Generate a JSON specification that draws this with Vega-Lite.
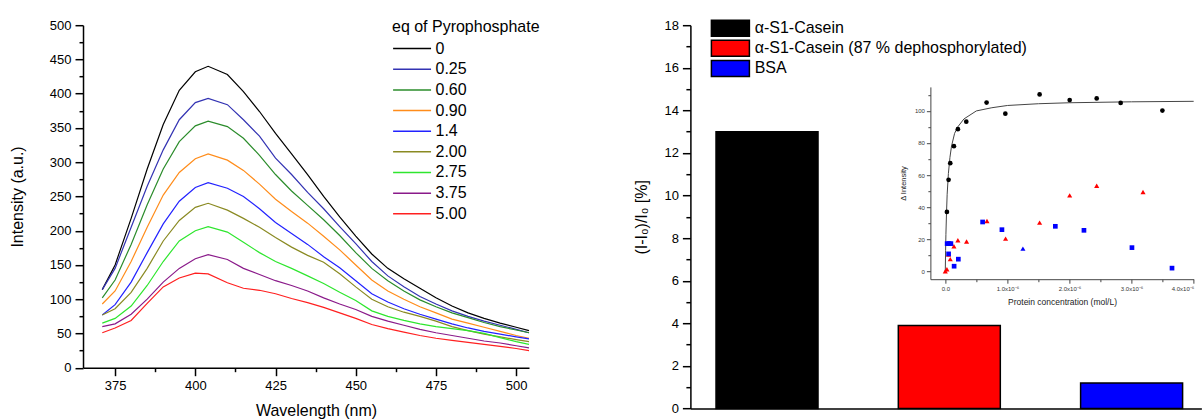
{
  "$schema": "https://vega.github.io/schema/vega-lite/v6.json",
  "padding": {"left": 9, "top": 19.2, "right": 0, "bottom": 0},
  "config": {"font": "Liberation Sans", "view": {"stroke": null}, "axis": {"grid": false}},
  "spacing": 161.4,
  "bounds": "flush",
  "hconcat": [
    {
      "width": 446,
      "height": 342.5,
      "data": {"values": [
        {"eq":"0","nm":371,"I":114},{"eq":"0","nm":375,"I":150},{"eq":"0","nm":380,"I":218},{"eq":"0","nm":385,"I":290},{"eq":"0","nm":390,"I":355},{"eq":"0","nm":395,"I":405},{"eq":"0","nm":400,"I":432},{"eq":"0","nm":404,"I":440},{"eq":"0","nm":410,"I":428},{"eq":"0","nm":415,"I":403},{"eq":"0","nm":420,"I":374},{"eq":"0","nm":425,"I":342},{"eq":"0","nm":430,"I":312},{"eq":"0","nm":435,"I":282},{"eq":"0","nm":440,"I":250},{"eq":"0","nm":445,"I":220},{"eq":"0","nm":450,"I":192},{"eq":"0","nm":455,"I":166},{"eq":"0","nm":460,"I":145},{"eq":"0","nm":465,"I":130},{"eq":"0","nm":470,"I":116},{"eq":"0","nm":475,"I":102},{"eq":"0","nm":480,"I":90},{"eq":"0","nm":485,"I":80},{"eq":"0","nm":490,"I":72},{"eq":"0","nm":495,"I":65},{"eq":"0","nm":500,"I":59},{"eq":"0","nm":504,"I":54},
        {"eq":"0.25","nm":371,"I":114},{"eq":"0.25","nm":375,"I":145},{"eq":"0.25","nm":380,"I":205},{"eq":"0.25","nm":385,"I":265},{"eq":"0.25","nm":390,"I":318},{"eq":"0.25","nm":395,"I":362},{"eq":"0.25","nm":400,"I":387},{"eq":"0.25","nm":404,"I":393},{"eq":"0.25","nm":410,"I":384},{"eq":"0.25","nm":415,"I":362},{"eq":"0.25","nm":420,"I":338},{"eq":"0.25","nm":425,"I":306},{"eq":"0.25","nm":430,"I":282},{"eq":"0.25","nm":435,"I":256},{"eq":"0.25","nm":440,"I":232},{"eq":"0.25","nm":445,"I":206},{"eq":"0.25","nm":450,"I":181},{"eq":"0.25","nm":455,"I":155},{"eq":"0.25","nm":460,"I":134},{"eq":"0.25","nm":465,"I":118},{"eq":"0.25","nm":470,"I":104},{"eq":"0.25","nm":475,"I":93},{"eq":"0.25","nm":480,"I":83},{"eq":"0.25","nm":485,"I":75},{"eq":"0.25","nm":490,"I":68},{"eq":"0.25","nm":495,"I":62},{"eq":"0.25","nm":500,"I":56},{"eq":"0.25","nm":504,"I":51},
        {"eq":"0.60","nm":371,"I":102},{"eq":"0.60","nm":375,"I":128},{"eq":"0.60","nm":380,"I":180},{"eq":"0.60","nm":385,"I":238},{"eq":"0.60","nm":390,"I":290},{"eq":"0.60","nm":395,"I":330},{"eq":"0.60","nm":400,"I":353},{"eq":"0.60","nm":404,"I":360},{"eq":"0.60","nm":410,"I":352},{"eq":"0.60","nm":415,"I":335},{"eq":"0.60","nm":420,"I":310},{"eq":"0.60","nm":425,"I":282},{"eq":"0.60","nm":430,"I":258},{"eq":"0.60","nm":435,"I":237},{"eq":"0.60","nm":440,"I":216},{"eq":"0.60","nm":445,"I":193},{"eq":"0.60","nm":450,"I":168},{"eq":"0.60","nm":455,"I":145},{"eq":"0.60","nm":460,"I":127},{"eq":"0.60","nm":465,"I":112},{"eq":"0.60","nm":470,"I":99},{"eq":"0.60","nm":475,"I":89},{"eq":"0.60","nm":480,"I":80},{"eq":"0.60","nm":485,"I":73},{"eq":"0.60","nm":490,"I":66},{"eq":"0.60","nm":495,"I":60},{"eq":"0.60","nm":500,"I":55},{"eq":"0.60","nm":504,"I":51},
        {"eq":"0.90","nm":371,"I":93},{"eq":"0.90","nm":375,"I":112},{"eq":"0.90","nm":380,"I":155},{"eq":"0.90","nm":385,"I":205},{"eq":"0.90","nm":390,"I":252},{"eq":"0.90","nm":395,"I":285},{"eq":"0.90","nm":400,"I":305},{"eq":"0.90","nm":404,"I":312},{"eq":"0.90","nm":410,"I":303},{"eq":"0.90","nm":415,"I":288},{"eq":"0.90","nm":420,"I":268},{"eq":"0.90","nm":425,"I":246},{"eq":"0.90","nm":430,"I":228},{"eq":"0.90","nm":435,"I":211},{"eq":"0.90","nm":440,"I":192},{"eq":"0.90","nm":445,"I":172},{"eq":"0.90","nm":450,"I":150},{"eq":"0.90","nm":455,"I":128},{"eq":"0.90","nm":460,"I":112},{"eq":"0.90","nm":465,"I":100},{"eq":"0.90","nm":470,"I":89},{"eq":"0.90","nm":475,"I":80},{"eq":"0.90","nm":480,"I":71},{"eq":"0.90","nm":485,"I":65},{"eq":"0.90","nm":490,"I":59},{"eq":"0.90","nm":495,"I":53},{"eq":"0.90","nm":500,"I":47},{"eq":"0.90","nm":504,"I":43},
        {"eq":"1.4","nm":371,"I":77},{"eq":"1.4","nm":375,"I":92},{"eq":"1.4","nm":380,"I":125},{"eq":"1.4","nm":385,"I":168},{"eq":"1.4","nm":390,"I":210},{"eq":"1.4","nm":395,"I":243},{"eq":"1.4","nm":400,"I":263},{"eq":"1.4","nm":404,"I":270},{"eq":"1.4","nm":410,"I":262},{"eq":"1.4","nm":415,"I":250},{"eq":"1.4","nm":420,"I":232},{"eq":"1.4","nm":425,"I":212},{"eq":"1.4","nm":430,"I":196},{"eq":"1.4","nm":435,"I":180},{"eq":"1.4","nm":440,"I":162},{"eq":"1.4","nm":445,"I":146},{"eq":"1.4","nm":450,"I":127},{"eq":"1.4","nm":455,"I":108},{"eq":"1.4","nm":460,"I":96},{"eq":"1.4","nm":465,"I":86},{"eq":"1.4","nm":470,"I":78},{"eq":"1.4","nm":475,"I":71},{"eq":"1.4","nm":480,"I":64},{"eq":"1.4","nm":485,"I":58},{"eq":"1.4","nm":490,"I":53},{"eq":"1.4","nm":495,"I":49},{"eq":"1.4","nm":500,"I":45},{"eq":"1.4","nm":504,"I":42},
        {"eq":"2.00","nm":371,"I":77},{"eq":"2.00","nm":375,"I":86},{"eq":"2.00","nm":380,"I":110},{"eq":"2.00","nm":385,"I":145},{"eq":"2.00","nm":390,"I":185},{"eq":"2.00","nm":395,"I":215},{"eq":"2.00","nm":400,"I":234},{"eq":"2.00","nm":404,"I":240},{"eq":"2.00","nm":410,"I":230},{"eq":"2.00","nm":415,"I":218},{"eq":"2.00","nm":420,"I":205},{"eq":"2.00","nm":425,"I":190},{"eq":"2.00","nm":430,"I":176},{"eq":"2.00","nm":435,"I":164},{"eq":"2.00","nm":440,"I":154},{"eq":"2.00","nm":445,"I":137},{"eq":"2.00","nm":450,"I":118},{"eq":"2.00","nm":455,"I":100},{"eq":"2.00","nm":460,"I":89},{"eq":"2.00","nm":465,"I":81},{"eq":"2.00","nm":470,"I":75},{"eq":"2.00","nm":475,"I":68},{"eq":"2.00","nm":480,"I":60},{"eq":"2.00","nm":485,"I":54},{"eq":"2.00","nm":490,"I":49},{"eq":"2.00","nm":495,"I":45},{"eq":"2.00","nm":500,"I":41},{"eq":"2.00","nm":504,"I":38},
        {"eq":"2.75","nm":371,"I":65},{"eq":"2.75","nm":375,"I":72},{"eq":"2.75","nm":380,"I":90},{"eq":"2.75","nm":385,"I":120},{"eq":"2.75","nm":390,"I":155},{"eq":"2.75","nm":395,"I":185},{"eq":"2.75","nm":400,"I":200},{"eq":"2.75","nm":404,"I":206},{"eq":"2.75","nm":410,"I":198},{"eq":"2.75","nm":415,"I":183},{"eq":"2.75","nm":420,"I":168},{"eq":"2.75","nm":425,"I":155},{"eq":"2.75","nm":430,"I":145},{"eq":"2.75","nm":435,"I":134},{"eq":"2.75","nm":440,"I":123},{"eq":"2.75","nm":445,"I":110},{"eq":"2.75","nm":450,"I":98},{"eq":"2.75","nm":455,"I":83},{"eq":"2.75","nm":460,"I":75},{"eq":"2.75","nm":465,"I":69},{"eq":"2.75","nm":470,"I":64},{"eq":"2.75","nm":475,"I":60},{"eq":"2.75","nm":480,"I":57},{"eq":"2.75","nm":485,"I":54},{"eq":"2.75","nm":490,"I":50},{"eq":"2.75","nm":495,"I":44},{"eq":"2.75","nm":500,"I":38},{"eq":"2.75","nm":504,"I":34},
        {"eq":"3.75","nm":371,"I":60},{"eq":"3.75","nm":375,"I":64},{"eq":"3.75","nm":380,"I":78},{"eq":"3.75","nm":385,"I":100},{"eq":"3.75","nm":390,"I":125},{"eq":"3.75","nm":395,"I":145},{"eq":"3.75","nm":400,"I":159},{"eq":"3.75","nm":404,"I":165},{"eq":"3.75","nm":410,"I":158},{"eq":"3.75","nm":415,"I":145},{"eq":"3.75","nm":420,"I":136},{"eq":"3.75","nm":425,"I":127},{"eq":"3.75","nm":430,"I":120},{"eq":"3.75","nm":435,"I":112},{"eq":"3.75","nm":440,"I":102},{"eq":"3.75","nm":445,"I":93},{"eq":"3.75","nm":450,"I":85},{"eq":"3.75","nm":455,"I":75},{"eq":"3.75","nm":460,"I":68},{"eq":"3.75","nm":465,"I":62},{"eq":"3.75","nm":470,"I":56},{"eq":"3.75","nm":475,"I":51},{"eq":"3.75","nm":480,"I":47},{"eq":"3.75","nm":485,"I":43},{"eq":"3.75","nm":490,"I":39},{"eq":"3.75","nm":495,"I":36},{"eq":"3.75","nm":500,"I":32},{"eq":"3.75","nm":504,"I":29},
        {"eq":"5.00","nm":371,"I":51},{"eq":"5.00","nm":375,"I":58},{"eq":"5.00","nm":380,"I":69},{"eq":"5.00","nm":385,"I":94},{"eq":"5.00","nm":390,"I":118},{"eq":"5.00","nm":395,"I":131},{"eq":"5.00","nm":400,"I":138},{"eq":"5.00","nm":404,"I":137},{"eq":"5.00","nm":410,"I":124},{"eq":"5.00","nm":415,"I":116},{"eq":"5.00","nm":420,"I":113},{"eq":"5.00","nm":425,"I":108},{"eq":"5.00","nm":430,"I":101},{"eq":"5.00","nm":435,"I":95},{"eq":"5.00","nm":440,"I":88},{"eq":"5.00","nm":445,"I":80},{"eq":"5.00","nm":450,"I":72},{"eq":"5.00","nm":455,"I":63},{"eq":"5.00","nm":460,"I":57},{"eq":"5.00","nm":465,"I":52},{"eq":"5.00","nm":470,"I":47},{"eq":"5.00","nm":475,"I":43},{"eq":"5.00","nm":480,"I":40},{"eq":"5.00","nm":485,"I":37},{"eq":"5.00","nm":490,"I":34},{"eq":"5.00","nm":495,"I":31},{"eq":"5.00","nm":500,"I":28},{"eq":"5.00","nm":504,"I":25}
      ]},
      "mark": {"type": "line", "strokeWidth": 1.2},
      "encoding": {
        "x": {"field": "nm", "type": "quantitative",
          "scale": {"domain": [365, 504], "nice": false, "zero": false},
          "axis": {"title": "Wavelength (nm)", "titleX": 233, "values": [375, 387.5, 400, 412.5, 425, 437.5, 450, 462.5, 475, 487.5, 500],
            "labelExpr": "datum.value % 25 == 0 ? datum.label : ''",
            "tickSize": {"condition": {"test": "datum.value % 25 != 0", "value": 4}, "value": 8},
            "labelFontSize": 13, "titleFontSize": 16, "titleFontWeight": "normal", "labelPadding": 4, "titlePadding": 10,
            "domainColor": "black", "tickColor": "black", "domainWidth": 1.5, "tickWidth": 1.5,
            "labelColor": "black", "titleColor": "black", "labelOverlap": false, "labelFlush": false}},
        "y": {"field": "I", "type": "quantitative",
          "scale": {"domain": [0, 500], "nice": false},
          "axis": {"title": "Intensity (a.u.)", "values": [0,25,50,75,100,125,150,175,200,225,250,275,300,325,350,375,400,425,450,475,500],
            "labelExpr": "datum.value % 50 == 0 ? datum.label : ''",
            "tickSize": {"condition": {"test": "datum.value % 50 != 0", "value": 4}, "value": 8},
            "labelFontSize": 13, "titleFontSize": 16, "titleFontWeight": "normal", "labelPadding": 4, "titlePadding": 24,
            "domainColor": "black", "tickColor": "black", "domainWidth": 1.5, "tickWidth": 1.5,
            "labelColor": "black", "titleColor": "black", "labelOverlap": false}},
        "color": {"field": "eq", "type": "nominal",
          "scale": {"domain": ["0","0.25","0.60","0.90","1.4","2.00","2.75","3.75","5.00"],
                    "range": ["#000000","#3333b3","#2b8c2b","#ff8c1a","#2222ff","#8a8a22","#2ee62e","#8a1a8a","#ff2020"]},
          "legend": {"title": "eq of Pyrophosphate", "orient": "none", "legendX": 309, "legendY": -6,
            "titleFontSize": 16, "titleFontWeight": "normal", "titleColor": "black", "titlePadding": 4.4,
            "labelFontSize": 16, "labelColor": "black", "labelOffset": 25.5,
            "symbolType": "M-1,0H3.8", "symbolSize": 250, "symbolStrokeWidth": 1.5, "rowPadding": 3.65}}
      }
    },
    {
      "width": 511,
      "height": 383.3,
      "layer": [
        {
          "data": {"values": [
            {"protein": "α-S1-Casein", "value": 13.0},
            {"protein": "α-S1-Casein (87 % dephosphorylated)", "value": 3.9},
            {"protein": "BSA", "value": 1.2}
          ]},
          "mark": {"type": "bar", "stroke": "black", "strokeWidth": 1.5},
          "encoding": {
            "x": {"field": "protein", "type": "nominal", "sort": null,
              "scale": {"paddingInner": 0.4405, "paddingOuter": 0.1218, "align": 0.577},
              "axis": {"labels": false, "ticks": false, "title": null, "domainColor": "black", "domainWidth": 1.5}},
            "y": {"field": "value", "type": "quantitative",
              "scale": {"domain": [0, 18], "nice": false},
              "axis": {"title": "(I-I₀)/I₀ [%]", "values": [0,1,2,3,4,5,6,7,8,9,10,11,12,13,14,15,16,17,18],
                "labelExpr": "datum.value % 2 == 0 ? datum.label : ''",
                "tickSize": {"condition": {"test": "datum.value % 2 != 0", "value": 4.5}, "value": 8},
                "labelFontSize": 13, "titleFontSize": 16, "titleFontWeight": "normal", "labelPadding": 4, "titlePadding": 14.5,
                "domainColor": "black", "tickColor": "black", "domainWidth": 1.5, "tickWidth": 1.5,
                "labelColor": "black", "titleColor": "black", "labelOverlap": false}},
            "color": {"field": "protein", "type": "nominal",
              "scale": {"domain": ["α-S1-Casein", "α-S1-Casein (87 % dephosphorylated)", "BSA"], "range": ["#000000", "#ff0000", "#0000ff"]},
              "legend": {"title": null, "orient": "none", "legendX": 20, "legendY": -6,
                "labelFontSize": 16, "labelColor": "black", "labelOffset": 26.3, "labelLimit": 500,
                "symbolType": "M-1,-1H3.75V1H-1Z", "symbolSize": 256, "symbolStrokeColor": "black", "symbolStrokeWidth": 1.5,
                "symbolOpacity": 1, "rowPadding": -1.9}}
          }
        },
        {
          "data": {"values": [
            {"series":"fit","conc":0,"dI":0},{"series":"fit","conc":5e-9,"dI":13},{"series":"fit","conc":1e-8,"dI":23},{"series":"fit","conc":2e-8,"dI":37},{"series":"fit","conc":3e-8,"dI":48},{"series":"fit","conc":5e-8,"dI":61},{"series":"fit","conc":7.5e-8,"dI":71},{"series":"fit","conc":1e-7,"dI":78},{"series":"fit","conc":1.5e-7,"dI":86},{"series":"fit","conc":2e-7,"dI":90},{"series":"fit","conc":3e-7,"dI":95},{"series":"fit","conc":5e-7,"dI":100},{"series":"fit","conc":7.5e-7,"dI":102},{"series":"fit","conc":1e-6,"dI":103.4},{"series":"fit","conc":1.5e-6,"dI":104.5},{"series":"fit","conc":2e-6,"dI":105.1},{"series":"fit","conc":3e-6,"dI":105.7},{"series":"fit","conc":4e-6,"dI":106},
            {"series":"casein","conc":2.6e-8,"dI":37},{"series":"casein","conc":5.3e-8,"dI":57},{"series":"casein","conc":8e-8,"dI":67.4},{"series":"casein","conc":1.39e-7,"dI":78},{"series":"casein","conc":2.03e-7,"dI":88.6},{"series":"casein","conc":3.38e-7,"dI":93.3},{"series":"casein","conc":6.65e-7,"dI":105.2},{"series":"casein","conc":9.67e-7,"dI":98.3},{"series":"casein","conc":1.519e-6,"dI":110.3},{"series":"casein","conc":2.003e-6,"dI":106.8},{"series":"casein","conc":2.438e-6,"dI":107.8},{"series":"casein","conc":2.824e-6,"dI":105},{"series":"casein","conc":3.496e-6,"dI":100.2},
            {"series":"bsa","conc":3e-8,"dI":17.2},{"series":"bsa","conc":6e-8,"dI":17.2},{"series":"bsa","conc":9e-8,"dI":17.2},{"series":"bsa","conc":5.3e-8,"dI":10.8},{"series":"bsa","conc":1.42e-7,"dI":3.1},{"series":"bsa","conc":2.1e-7,"dI":7.5},{"series":"bsa","conc":6.01e-7,"dI":30.7},{"series":"bsa","conc":9.12e-7,"dI":25.9},{"series":"bsa","conc":1.772e-6,"dI":28},{"series":"bsa","conc":2.233e-6,"dI":25.5},{"series":"bsa","conc":3.006e-6,"dI":14.7},{"series":"bsa","conc":3.651e-6,"dI":1.9},
            {"series":"bsa2","conc":1.25e-6,"dI":14.1},
            {"series":"dephos","conc":0,"dI":0},{"series":"dephos","conc":2.6e-8,"dI":1.2},{"series":"dephos","conc":5.3e-8,"dI":10.4},{"series":"dephos","conc":8e-8,"dI":7.5},{"series":"dephos","conc":1.39e-7,"dI":15.6},{"series":"dephos","conc":2.03e-7,"dI":19.3},{"series":"dephos","conc":3.43e-7,"dI":18.5},{"series":"dephos","conc":6.71e-7,"dI":31.3},{"series":"dephos","conc":9.71e-7,"dI":20.3},{"series":"dephos","conc":1.519e-6,"dI":30.3},{"series":"dephos","conc":2.003e-6,"dI":47.3},{"series":"dephos","conc":2.438e-6,"dI":53.3},{"series":"dephos","conc":3.184e-6,"dI":49.4}
          ]},
          "encoding": {
            "x": {"field": "conc", "type": "quantitative",
              "scale": {"domain": [-2.4e-7, 4e-6], "range": [240, 503.3], "nice": false, "zero": false},
              "axis": {"orient": "bottom", "offset": -129.3, "title": "Protein concentration (mol/L)",
                "values": [0, 5e-7, 1e-6, 1.5e-6, 2e-6, 2.5e-6, 3e-6, 3.5e-6, 4e-6],
                "labelExpr": "abs(datum.value*1e6 - round(datum.value*1e6)) > 0.01 ? '' : (datum.value == 0 ? '0.0' : format(datum.value*1e6, '.1f') + 'x10⁻⁶')",
                "tickSize": {"condition": {"test": "abs(datum.value*1e6 - round(datum.value*1e6)) > 0.01", "value": 2.5}, "value": 4},
                "labelFontSize": 6, "labelColor": "#333333", "labelPadding": 2, "labelFlush": true, "labelOverlap": false,
                "titleFontSize": 8.5, "titleFontWeight": "normal", "titleColor": "#222222", "titlePadding": 6,
                "domainColor": "#444444", "domainWidth": 1, "tickColor": "#444444", "tickWidth": 1}},
            "y": {"field": "dI", "type": "quantitative",
              "scale": {"domain": [-5, 115], "range": [254, 61.7], "nice": false, "zero": false},
              "axis": {"orient": "left", "offset": -240, "title": "Δ Intensity",
                "values": [0,10,20,30,40,50,60,70,80,90,100,110],
                "labelExpr": "datum.value % 20 == 0 ? datum.label : ''",
                "tickSize": {"condition": {"test": "datum.value % 20 != 0", "value": 2.5}, "value": 4},
                "labelFontSize": 6, "labelColor": "#333333", "labelPadding": 2, "labelOverlap": false,
                "titleFontSize": 7.5, "titleFontWeight": "normal", "titleColor": "#222222", "titlePadding": 7,
                "domainColor": "#444444", "domainWidth": 1, "tickColor": "#444444", "tickWidth": 1}}
          },
          "layer": [
            {"transform": [{"filter": "datum.series == 'fit'"}], "mark": {"type": "line", "color": "#444444", "strokeWidth": 1}, "encoding": {}},
            {"transform": [{"filter": "datum.series == 'casein'"}], "mark": {"type": "point", "filled": true, "shape": "circle", "color": "black", "size": 22, "opacity": 1}},
            {"transform": [{"filter": "datum.series == 'dephos'"}], "mark": {"type": "point", "filled": true, "shape": "triangle-up", "color": "#ff0000", "size": 26, "opacity": 1}},
            {"transform": [{"filter": "datum.series == 'bsa'"}], "mark": {"type": "point", "filled": true, "shape": "square", "color": "#0000ff", "size": 22, "opacity": 1}},
            {"transform": [{"filter": "datum.series == 'bsa2'"}], "mark": {"type": "point", "filled": true, "shape": "triangle-up", "color": "#0000ff", "size": 26, "opacity": 1}}
          ]
        }
      ],
      "resolve": {"scale": {"x": "independent", "y": "independent", "color": "independent"}, "axis": {"x": "independent", "y": "independent"}}
    }
  ]
}
